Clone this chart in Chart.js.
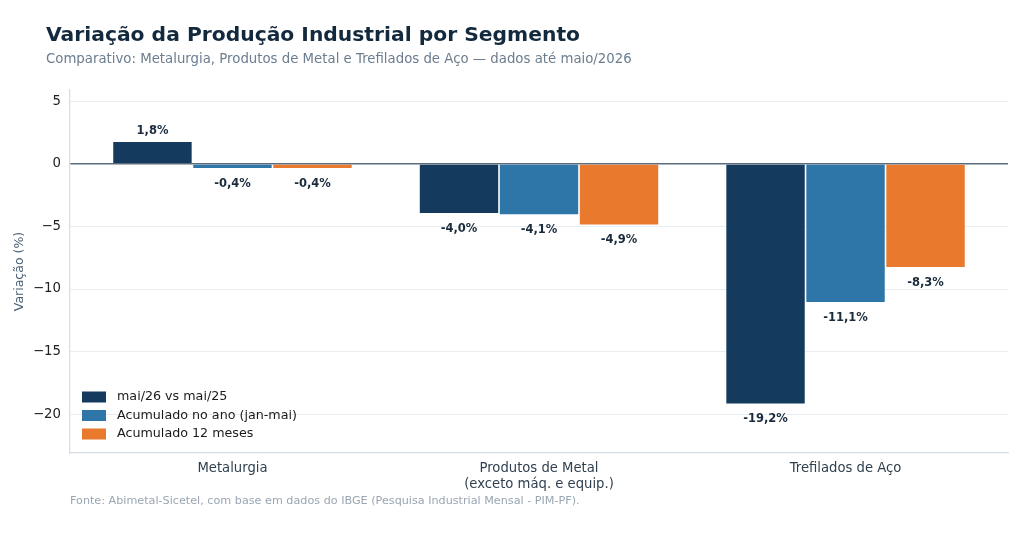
<!DOCTYPE html>
<html>
<head>
<meta charset="utf-8">
<script src="https://cdn.jsdelivr.net/npm/chart.js@4.4.1/dist/chart.umd.min.js"></script>
<style>
  html, body { margin: 0; padding: 0; background: #fff; }
  #wrap { width: 1024px; height: 546px; position: relative; }
</style>
</head>
<body>
<div id="wrap"><canvas id="chart"></canvas></div>
<script>
const categories = [['Metalurgia'], ['Produtos de Metal', '(exceto máq. e equip.)'], ['Trefilados de Aço']];
const seriesNames = ['mai/26 vs mai/25', 'Acumulado no ano (jan-mai)', 'Acumulado 12 meses'];
const mensal = [1.8, -4.0, -19.2];
const acumAno = [-0.4, -4.1, -11.1];
const acum12 = [-0.4, -4.9, -8.3];
const yTicks = [5, 0, -5, -10, -15, -20];

const colors = ['#143a5e', '#2e76a8', '#e8792d'];
const FONT = "'DejaVu Sans', sans-serif";

const fmt = v => v.toFixed(1).replace('.', ',') + '%';

// title, subtitle, footer, legend and value labels
const decor = {
    id: 'decor',
    afterDatasetsDraw(chart) {
        const ctx = chart.ctx;
        ctx.save();
        // value labels
        ctx.font = "bold 11.5px " + FONT;
        ctx.fillStyle = '#1a2b3c';
        ctx.textAlign = 'center';
        ctx.textBaseline = 'middle';
        chart.data.datasets.forEach((ds, di) => {
            chart.getDatasetMeta(di).data.forEach((bar, i) => {
                const v = ds.data[i].y;
                const y = v >= 0 ? bar.y - 10 : bar.y + 15;
                ctx.fillText(fmt(v), bar.x, y);
            });
        });
        // legend inside the plot
        const ca = chart.chartArea;
        ctx.font = "12.7px " + FONT;
        ctx.textAlign = 'left';
        chart.data.datasets.forEach((ds, di) => {
            const y = 397 + di * 18.5;
            ctx.fillStyle = ds.backgroundColor;
            ctx.fillRect(ca.left + 12, y - 5.5, 24, 11);
            ctx.fillStyle = '#1a1a1a';
            ctx.fillText(ds.label, ca.left + 47, y);
        });
        ctx.restore();
    },
    afterDraw(chart) {
        const ctx = chart.ctx;
        ctx.save();
        ctx.textAlign = 'left';
        ctx.textBaseline = 'alphabetic';
        ctx.fillStyle = '#13293d';
        ctx.font = "bold 20.3px " + FONT;
        ctx.fillText('Variação da Produção Industrial por Segmento', 46, 41);
        ctx.fillStyle = '#6b7d8f';
        ctx.font = "13.3px " + FONT;
        ctx.fillText('Comparativo: Metalurgia, Produtos de Metal e Trefilados de Aço — dados até maio/2026', 46, 63);
        ctx.fillStyle = '#9aa6b2';
        ctx.font = "11.2px " + FONT;
        ctx.fillText('Fonte: Abimetal-Sicetel, com base em dados do IBGE (Pesquisa Industrial Mensal - PIM-PF).', 70, 504);
        ctx.restore();
    }
};

new Chart(document.getElementById('chart'), {
    type: 'bar',
    data: {
        datasets: [mensal, acumAno, acum12].map((d, i) => ({
            label: seriesNames[i],
            data: d.map((v, k) => ({ x: k, y: v })),
            backgroundColor: colors[i],
            borderColor: 'rgba(255,255,255,0.7)',
            borderWidth: 0.8,
            barPercentage: 1,
            categoryPercentage: 0.783
        }))
    },
    options: {
        responsive: true,
        maintainAspectRatio: false,
        animation: false,
        layout: { padding: { top: 90, right: 16, bottom: 0, left: 0 } },
        plugins: { legend: { display: false }, tooltip: { enabled: false } },
        scales: {
            x: {
                type: 'linear',
                min: -0.53, max: 2.53,
                offset: false,
                afterBuildTicks(s) { s.ticks = categories.map((c, k) => ({ value: k })); },
                grid: { display: false, drawTicks: false },
                border: { color: '#d5dde5', width: 1.2 },
                ticks: {
                    color: '#2f3f4f', font: { family: FONT, size: 13.2 }, padding: 8,
                    maxRotation: 0, autoSkip: false,
                    callback: v => categories[v]
                },
                afterFit(s) { s.height = 93; }
            },
            y: {
                min: -23.1, max: 5.9,
                afterBuildTicks(s) { s.ticks = yTicks.map(v => ({ value: v })); },
                grid: {
                    drawTicks: false,
                    color: c => c.tick && c.tick.value === 0 ? '#5b6b7b' : '#e8edf2',
                    lineWidth: c => c.tick && c.tick.value === 0 ? 1.5 : 1
                },
                border: { color: '#d5dde5', width: 1.2 },
                ticks: {
                    color: '#222',
                    font: { family: FONT, size: 13.3 },
                    padding: 9,
                    callback: v => String(v).replace('-', '\u2212')
                },
                title: {
                    display: true, text: 'Variação (%)', color: '#4a6076',
                    font: { family: FONT, size: 12.5 }, padding: { top: 12, bottom: 0 }
                },
                afterFit(s) { s.width = 70; }
            }
        }
    },
    plugins: [decor]
});
</script>
</body>
</html>
